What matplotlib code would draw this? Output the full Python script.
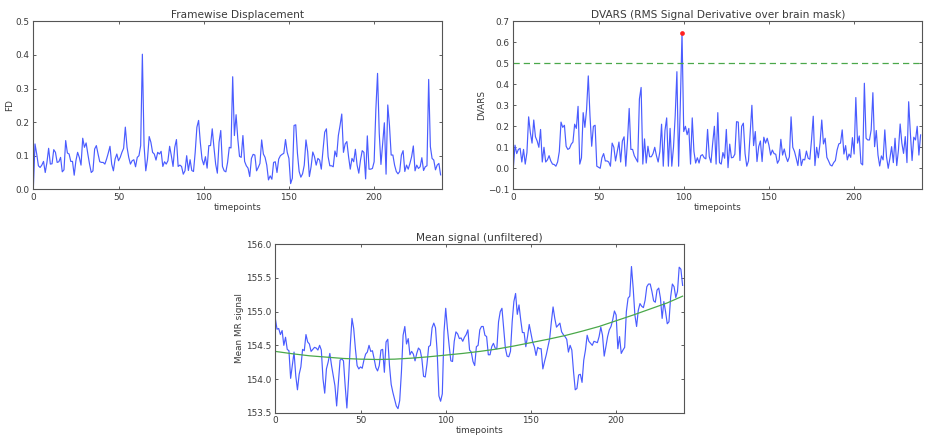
import matplotlib
matplotlib.use("Agg")
import matplotlib.pyplot as plt

fd = [.0,.135,.105,.07,.065,.072,.083,.05,.08,.122,
      .075,.076,.118,.11,.08,.082,.095,.052,.058,.145,
      .108,.105,.083,.083,.042,.085,.11,.095,.072,.152,
      .125,.138,.105,.075,.05,.055,.12,.13,.105,.082,
      .08,.08,.075,.09,.108,.128,.075,.055,.09,.105,
      .085,.095,.11,.122,.185,.125,.095,.075,.085,.088,
      .067,.095,.10,.13,.402,.13,.055,.09,.157,.14,
      .11,.105,.087,.11,.105,.113,.068,.082,.075,.085,
      .128,.10,.068,.125,.148,.068,.072,.068,.045,.055,
      .10,.056,.088,.056,.053,.11,.185,.205,.14,.09,
      .073,.097,.063,.13,.13,.18,.125,.075,.048,.14,
      .175,.068,.055,.052,.08,.125,.123,.335,.16,.222,
      .15,.098,.095,.16,.083,.07,.063,.038,.092,.104,
      .102,.055,.065,.077,.147,.105,.095,.072,.028,.04,
      .03,.08,.082,.05,.09,.10,.104,.107,.148,.11,
      .092,.017,.033,.19,.192,.107,.053,.036,.046,.072,
      .147,.112,.038,.067,.111,.097,.072,.092,.087,.06,
      .117,.17,.18,.097,.07,.07,.067,.114,.097,.16,
      .19,.224,.11,.135,.142,.097,.06,.092,.082,.119,
      .072,.048,.087,.115,.11,.031,.159,.06,.06,.062,
      .082,.236,.345,.167,.074,.137,.198,.045,.251,.19,
      .102,.102,.072,.053,.046,.053,.102,.115,.053,.072,
      .06,.077,.097,.129,.055,.072,.062,.067,.094,.056,
      .067,.07,.327,.127,.092,.087,.058,.072,.077,.043]

dvars = [.0,.11,.07,.09,.095,.03,.09,.02,.075,.245,
         .17,.12,.23,.15,.13,.10,.185,.03,.10,.03,
         .04,.06,.035,.02,.018,.01,.03,.08,.22,.195,
         .205,.105,.09,.095,.115,.125,.21,.19,.295,.02,
         .05,.265,.195,.28,.44,.25,.105,.20,.205,.01,
         .005,.0,.05,.07,.035,.035,.03,.01,.12,.10,
         .035,.08,.125,.03,.13,.15,.01,.13,.285,.09,
         .09,.06,.045,.03,.33,.385,.02,.14,.025,.105,
         .055,.055,.07,.10,.06,.03,.08,.21,.01,.18,
         .24,.01,.19,.01,.10,.25,.46,.01,.30,.645,
         .175,.20,.16,.19,.02,.24,.08,.025,.05,.025,
         .06,.065,.05,.045,.185,.055,.027,.12,.20,.02,
         .265,.027,.02,.075,.048,.185,.003,.115,.05,.052,
         .067,.222,.22,.037,.20,.215,.07,.01,.035,.167,
         .30,.108,.175,.032,.103,.13,.032,.148,.12,.143,
         .11,.063,.087,.07,.067,.024,.04,.138,.063,.092,
         .055,.032,.055,.245,.10,.08,.048,.013,.09,.013,
         .043,.04,.082,.048,.043,.135,.248,.013,.10,.05,
         .12,.23,.116,.143,.052,.035,.016,.011,.027,.037,
         .087,.116,.12,.183,.068,.108,.04,.068,.052,.146,
         .068,.337,.12,.154,.024,.016,.405,.143,.135,.135,
         .183,.36,.103,.18,.063,.011,.059,.04,.183,.055,
         .0,.048,.103,.027,.143,.013,.087,.211,.12,.071,
         .151,.027,.317,.167,.037,.148,.135,.20,.063,.159]

mean_signal = [154.90,154.74,154.75,154.66,154.72,154.50,154.62,154.44,154.42,154.01,
               154.20,154.40,154.05,153.84,154.07,154.18,154.44,154.42,154.66,154.55,
               154.52,154.41,154.44,154.47,154.46,154.43,154.50,154.43,154.00,153.79,
               154.15,154.25,154.38,154.20,154.05,153.90,153.60,153.95,154.28,154.30,
               154.27,153.90,153.57,154.00,154.50,154.90,154.75,154.45,154.20,154.15,
               154.18,154.16,154.28,154.37,154.40,154.50,154.41,154.42,154.30,154.17,
               154.12,154.20,154.43,154.44,154.10,154.55,154.59,154.20,153.92,153.80,
               153.70,153.60,153.56,153.68,154.10,154.65,154.78,154.52,154.60,154.36,
               154.41,154.37,154.27,154.38,154.46,154.43,154.30,154.04,154.03,154.22,
               154.48,154.50,154.76,154.83,154.76,154.40,153.75,153.67,153.78,154.70,
               155.05,154.75,154.50,154.27,154.26,154.56,154.70,154.67,154.60,154.61,
               154.56,154.62,154.66,154.73,154.43,154.40,154.26,154.20,154.48,154.50,
               154.73,154.78,154.78,154.65,154.63,154.36,154.36,154.48,154.53,154.46,
               154.45,154.85,155.00,155.05,154.75,154.46,154.34,154.33,154.41,154.85,
               155.15,155.27,154.96,155.10,154.88,154.69,154.69,154.48,154.63,154.81,
               154.68,154.55,154.48,154.35,154.47,154.45,154.45,154.15,154.26,154.36,
               154.48,154.60,154.85,155.07,154.90,154.77,154.80,154.83,154.70,154.66,
               154.63,154.59,154.40,154.50,154.43,154.11,153.84,153.86,154.06,154.07,
               153.95,154.28,154.43,154.65,154.56,154.53,154.50,154.56,154.55,154.54,
               154.63,154.77,154.65,154.34,154.48,154.63,154.73,154.78,154.88,155.01,
               154.95,154.45,154.63,154.38,154.43,154.47,155.00,155.20,155.23,155.67,
               155.35,154.95,154.78,155.02,155.12,155.08,155.06,155.17,155.37,155.41,
               155.41,155.30,155.16,155.14,155.32,155.35,155.20,154.90,155.15,155.00,
               154.82,154.85,155.22,155.41,155.37,155.21,155.30,155.66,155.63,155.39]

fit_x = [0,10,20,30,40,50,60,70,80,90,100,110,120,130,140,150,160,170,180,190,200,210,220,230,239]
fit_y = [154.41,154.375,154.345,154.325,154.305,154.295,154.29,154.295,154.31,154.33,154.355,154.38,
         154.41,154.445,154.49,154.54,154.59,154.645,154.71,154.78,154.865,154.95,155.04,155.13,155.23]

outlier_x = [99]
outlier_y = [0.645]
threshold = 0.5

W, H = 935, 442
TXT = "#3a3a3a"
plt.rcParams.update({"font.family": "DejaVu Sans", "font.size": 6.4})
fig = plt.figure(figsize=(W/100, H/100), dpi=100)

def make_ax(l, r, t, b):
    ax = fig.add_axes([l/W, 1-b/H, (r-l)/W, (b-t)/H])
    ax.tick_params(direction="in", top=True, right=True, length=2.2, width=0.6,
                   color="#444444", labelcolor=TXT, labelsize=6.4, pad=2.6)
    for s in ax.spines.values():
        s.set_linewidth(0.8)
        s.set_color("#555555")
    return ax

def finish(ax, title, ylabel, ylim, yticks, xlim=240):
    ax.set_xlim(0, xlim)
    ax.set_ylim(*ylim)
    ax.set_yticks(yticks)
    ax.set_xticks([0, 50, 100, 150, 200])
    ax.set_title(title, fontsize=7.6, color=TXT, pad=2.6)
    ax.set_xlabel("timepoints", fontsize=6.4, color=TXT, labelpad=0.6)
    ax.set_ylabel(ylabel, fontsize=6.4, color=TXT, labelpad=1.4)

BLUE = "#4a5cff"
GREEN = "#4aa84a"

ax1 = make_ax(33.3, 442.3, 21.3, 189.3)
ax1.plot(range(len(fd)), fd, color=BLUE, lw=0.85)
finish(ax1, "Framewise Displacement", "FD", (0, 0.5), [0, .1, .2, .3, .4, .5])
ax1.set_yticklabels(["0.0", "0.1", "0.2", "0.3", "0.4", "0.5"])

ax2 = make_ax(513.3, 922.3, 21.3, 189.3)
ax2.plot(range(len(dvars)), dvars, color=BLUE, lw=0.85)
ax2.axhline(threshold, color=GREEN, lw=0.9, ls=(0, (5, 3.2)))
ax2.plot(outlier_x, outlier_y, "o", color="#ff2020", ms=3.4, mew=0)
finish(ax2, "DVARS (RMS Signal Derivative over brain mask)", "DVARS", (-0.1, 0.7),
       [-.1, 0, .1, .2, .3, .4, .5, .6, .7])
ax2.set_yticklabels(["\u22120.1", "0.0", "0.1", "0.2", "0.3", "0.4", "0.5", "0.6", "0.7"])

ax3 = make_ax(275.3, 684.3, 244.3, 412.7)
ax3.plot(range(len(mean_signal)), mean_signal, color=BLUE, lw=0.85)
ax3.plot(fit_x, fit_y, color=GREEN, lw=0.9)
finish(ax3, "Mean signal (unfiltered)", "Mean MR signal", (153.5, 156),
       [153.5, 154, 154.5, 155, 155.5, 156])
ax3.set_yticklabels(["153.5", "154.0", "154.5", "155.0", "155.5", "156.0"])

fig.savefig("out.png", dpi=100, facecolor="white")
